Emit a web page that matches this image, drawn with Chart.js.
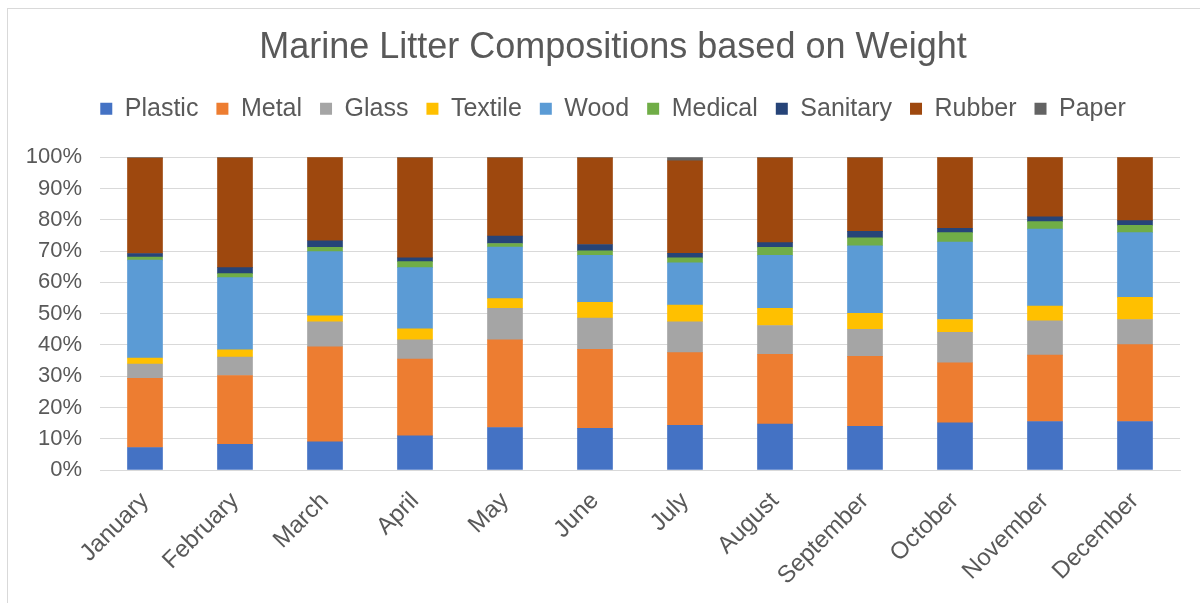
<!DOCTYPE html>
<html>
<head>
<meta charset="utf-8">
<script src="https://cdn.jsdelivr.net/npm/chart.js@4.4.0/dist/chart.umd.min.js"></script>
<style>
  html, body { margin: 0; padding: 0; background: #fff; }
  #wrap { position: relative; width: 1200px; height: 603px; overflow: hidden; }
  #frame { position: absolute; left: 7px; top: 8px; width: 1230px; height: 620px; border: 1px solid #d9d9d9; }
  canvas { position: absolute; left: 0; top: 0; }
</style>
</head>
<body>
<div id="wrap">
  <div id="frame"></div>
  <canvas id="myChart" width="1200" height="603"></canvas>
</div>
<script>
// months on the x axis
var months = ['January', 'February', 'March', 'April', 'May', 'June', 'July',
  'August', 'September', 'October', 'November', 'December'];

// share of weight per month, in percent
var plastic  = [7.2, 8.2, 9.0, 10.9, 13.6, 13.3, 14.3, 14.7, 14.0, 15.1, 15.5, 15.5];
var metal    = [22.1, 22.0, 30.4, 24.6, 28.0, 25.3, 23.2, 22.3, 22.3, 19.2, 21.2, 24.6];
var glass    = [4.6, 5.9, 8.0, 6.1, 10.1, 10.0, 9.9, 9.2, 8.7, 9.7, 11.0, 8.0];
var textile  = [1.9, 2.3, 1.9, 3.5, 3.1, 5.0, 5.3, 5.5, 5.1, 4.1, 4.7, 7.1];
var wood     = [31.3, 23.1, 20.5, 19.6, 16.5, 15.0, 13.5, 16.9, 21.6, 24.8, 24.6, 20.7];
var medical  = [1.0, 1.3, 1.4, 1.9, 1.1, 1.5, 1.6, 2.6, 2.5, 3.0, 2.4, 2.3];
var sanitary = [1.1, 1.9, 2.1, 1.2, 2.4, 2.0, 1.5, 1.5, 2.1, 1.4, 1.5, 1.5];
var rubber   = [30.5, 35.1, 26.7, 32.0, 25.0, 27.7, 29.5, 27.1, 23.5, 22.7, 19.1, 20.3];
var paper    = [0.3, 0.2, 0, 0.2, 0.2, 0.2, 1.2, 0.2, 0.2, 0, 0, 0];

var yTicks = [0, 10, 20, 30, 40, 50, 60, 70, 80, 90, 100];

var textColor = '#595959';
var gridColor = '#d9d9d9';
var fontFamily = 'Liberation Sans, Arial, sans-serif';

function series(label, data, color) {
  return {
    label: label,
    data: data,
    backgroundColor: color,
    borderWidth: 0,
    barThickness: 35
  };
}

const ctx = document.getElementById('myChart');

new Chart(ctx, {
  type: 'bar',
  data: {
    labels: months,
    datasets: [
      series('Plastic', plastic, '#4472C4'),
      series('Metal', metal, '#ED7D31'),
      series('Glass', glass, '#A5A5A5'),
      series('Textile', textile, '#FFC000'),
      series('Wood', wood, '#5B9BD5'),
      series('Medical', medical, '#70AD47'),
      series('Sanitary', sanitary, '#264478'),
      series('Rubber', rubber, '#9E480E'),
      series('Paper', paper, '#636363')
    ]
  },
  options: {
    responsive: false,
    animation: false,
    layout: { padding: { left: 0, right: 20, top: 0, bottom: 0 } },
    plugins: {
      title: {
        display: true,
        text: 'Marine Litter Compositions based on Weight',
        color: textColor,
        font: { family: fontFamily, size: 36, weight: 'normal' },
        padding: { top: 26, bottom: 9 }
      },
      legend: {
        position: 'top',
        labels: {
          color: textColor,
          font: { family: fontFamily, size: 25 },
          boxWidth: 12,
          boxHeight: 12,
          padding: 18
        }
      },
      tooltip: { enabled: false }
    },
    scales: {
      x: {
        stacked: true,
        grid: { display: false, drawTicks: false },
        border: { color: gridColor },
        ticks: {
          color: textColor,
          font: { family: fontFamily, size: 24 },
          minRotation: 45,
          maxRotation: 45,
          padding: 17
        },
        afterFit: function(scale) { scale.height = 133; }
      },
      y: {
        stacked: true,
        min: 0,
        max: 100,
        grid: { color: gridColor, drawTicks: false },
        border: { display: false },
        afterBuildTicks: function(scale) {
          scale.ticks = yTicks.map(function(v) { return { value: v }; });
        },
        ticks: {
          color: textColor,
          font: { family: fontFamily, size: 22 },
          padding: 18,
          callback: function(v) { return v + '%'; }
        },
        afterFit: function(scale) { scale.width = 100; }
      }
    }
  },
  plugins: [{
    id: 'legendGap',
    beforeInit: function(chart) {
      const fit = chart.legend.fit;
      chart.legend.fit = function() {
        fit.bind(chart.legend)();
        this.height += 26;
      };
    },
    // the title and legend sit a bit right of the plot centre in the original
    afterLayout: function(chart) {
      chart.legend.left += 23;
      chart.legend.right += 23;
      chart.titleBlock.left += 23;
      chart.titleBlock.right += 23;
    }
  }]
});
</script>
</body>
</html>
